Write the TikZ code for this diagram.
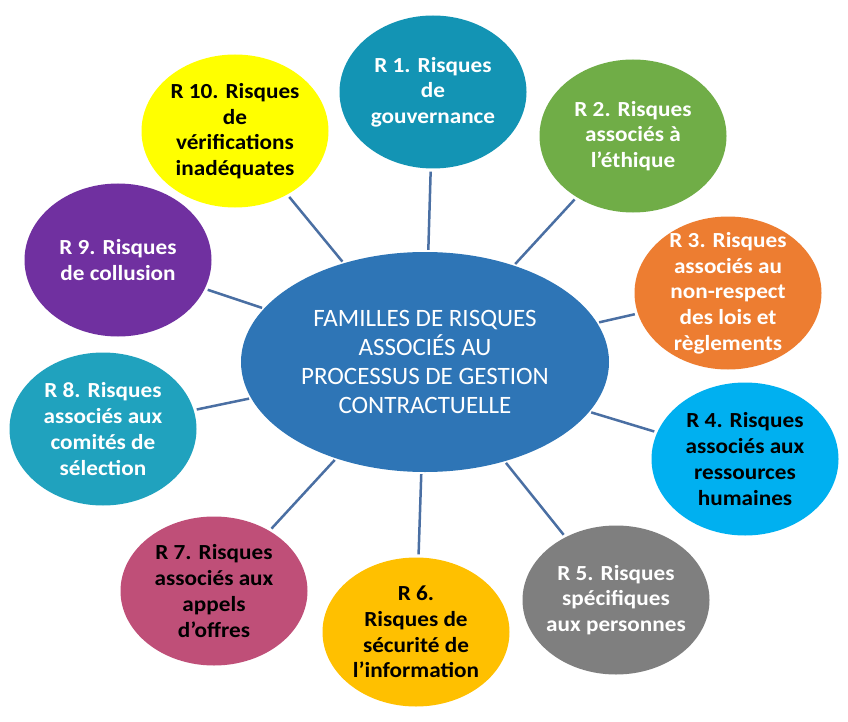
\documentclass[tikz,border=0pt]{standalone}
\usepackage{fontspec}
\setmainfont{Carlito}
\newfontfamily\riskfont[FakeStretch=1.08]{Carlito}
\usetikzlibrary{shapes.geometric}

\definecolor{famblue}{HTML}{2E75B6}
\definecolor{linkblue}{HTML}{4A6FA3}
\definecolor{teal1}{HTML}{1394B4}
\definecolor{green2}{HTML}{70AD47}
\definecolor{orange3}{HTML}{ED7D31}
\definecolor{sky4}{HTML}{00B0F0}
\definecolor{grey5}{HTML}{7F7F7F}
\definecolor{gold6}{HTML}{FFC000}
\definecolor{rose7}{HTML}{BF4F78}
\definecolor{teal8}{HTML}{20A2BE}
\definecolor{purple9}{HTML}{7030A0}
\definecolor{yellow10}{HTML}{FFFF00}

\tikzset{
  risk/.style={ellipse, minimum width=187pt, minimum height=153pt, inner sep=-40pt,
    align=center, font=\riskfont\bfseries\fontsize{21.5}{25.7}\selectfont},
  famille/.style={ellipse, fill=famblue, minimum width=368pt, minimum height=220pt,
    inner sep=-60pt, align=center, text=white, font=\fontsize{25}{29}\selectfont},
  link/.style={draw=linkblue, line width=2.5pt, shorten <=2pt, shorten >=3pt}
}

\begin{document}
\begin{tikzpicture}[x=1pt, y=-1pt]
	\fill[white] (0,0) rectangle (848,722);
	\useasboundingbox (0,0) rectangle (848,722);
	
	% centre
	\node[famille] (fam) at (425,362) {FAMILLES DE RISQUES\\ASSOCIÉS AU\\PROCESSUS DE GESTION\\CONTRACTUELLE};
	
	% the ten families, clockwise from the top
	\node[risk, fill=teal1, text=white] (r1) at (433,92) {R 1. Risques\\de\\gouvernance};
	\node[risk, fill=green2, text=white] (r2) at (633,136) {R 2. Risques\\associés à\\l’éthique};
	\node[risk, fill=orange3, text=white] (r3) at (728,293) {R 3. Risques\\associés au\\non-respect\\des lois et\\règlements};
	\node[risk, fill=sky4, text=black] (r4) at (745,459) {R 4. Risques\\associés aux\\ressources\\humaines};
	\node[risk, fill=grey5, text=white, minimum height=149pt] (r5) at (616,600) {R 5. Risques\\spécifiques\\aux personnes};
	\node[risk, fill=gold6, text=black, minimum height=149pt] (r6) at (416,632) {R 6.\\Risques de\\sécurité de\\l’information};
	\node[risk, fill=rose7, text=black, minimum height=149pt] (r7) at (214,591) {R 7. Risques\\associés aux\\appels\\d’offres};
	\node[risk, fill=teal8, text=white] (r8) at (103,429) {R 8. Risques\\associés aux\\comités de\\sélection};
	\node[risk, fill=purple9, text=white] (r9) at (118,260) {R 9. Risques\\de collusion};
	\node[risk, fill=yellow10, text=black] (r10) at (235,131) {R 10. Risques\\de\\vérifications\\inadéquates};
	
	\foreach \r in {r1,r2,r3,r4,r5,r6,r7,r8,r9,r10}
		\draw[link] (fam) -- (\r);
\end{tikzpicture}
\end{document}
